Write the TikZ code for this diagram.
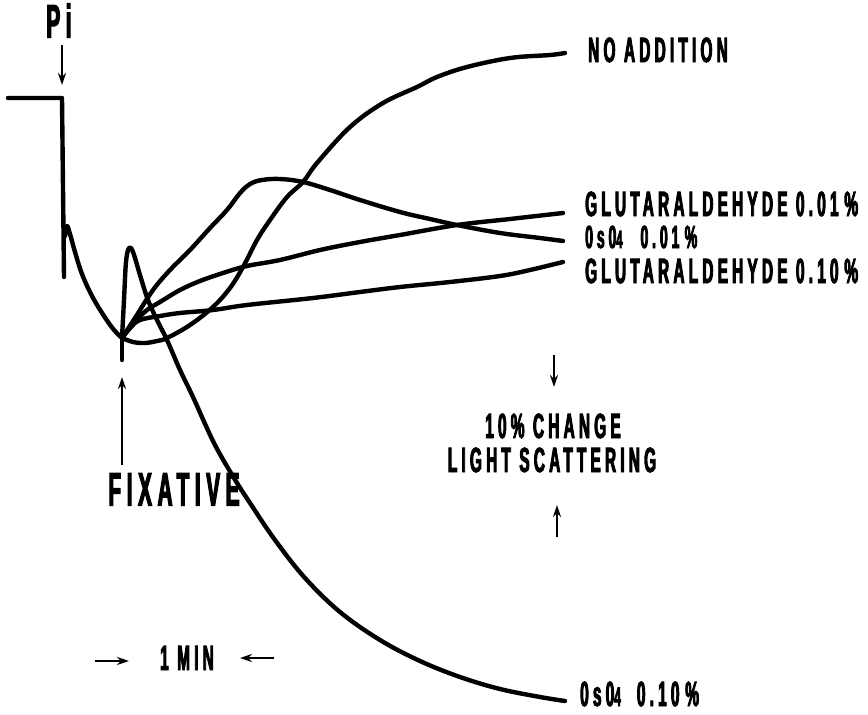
\documentclass[tikz,border=0pt]{standalone}
\usepackage{fontspec}
\usetikzlibrary{arrows.meta}
\newfontfamily\labfont{Liberation Sans}[FakeStretch=0.44,LetterSpace=12,FakeBold=2.5]
\begin{document}
\begin{tikzpicture}[x=1pt,y=-1pt,
  trace/.style={line width=4.4pt,line cap=round,line join=round},
  marker/.style={line width=2.3pt,-{Stealth[length=12pt,width=8pt]}},
  lab/.style={font=\labfont\bfseries\fontsize{35}{38}\selectfont,inner sep=0pt,anchor=west,text height=20pt,text depth=0pt},
  smlab/.style={lab,font=\labfont\bfseries\fontsize{32}{34}\selectfont,text height=18pt},
  biglab/.style={font=\labfont\bfseries\fontsize{47}{50}\selectfont,inner sep=0pt,text height=27pt,text depth=0pt}]
\useasboundingbox (0,0) rectangle (868,715);
% baseline trace with Pi step
\draw[trace] (8,98) -- (62,98) -- (64,277);
\draw[trace] plot[smooth,tension=0.6] coordinates {(65,236) (67,226) (70,234) (75,252) (82,274) (92,296) (104,316) (114,330) (122,338)};
\draw[trace] (122,338) -- (122,360);
% OsO4 0.10 %
\draw[trace] plot[smooth,tension=0.6] coordinates {(122,338) (124,300) (126,262) (129,248) (133,252) (140,275) (148,300) (158,322) (167,340) (180,370) (193,397) (214,443) (234,478) (250,503) (275,540) (305,578) (340,612) (380,640) (420,661) (460,677) (500,689) (540,697) (565,701)};
% NO ADDITION
\draw[trace] plot[smooth,tension=0.6] coordinates {(122,338) (133,342) (145,343) (157,341) (167,338) (190,325) (213,307) (230,288) (243,267) (257,240) (270,220) (287,197) (303,182) (317,163) (350,127) (383,103) (417,87) (437,77) (467,67) (510,58) (550,55) (565,53)};
% OsO4 0.01 %
\draw[trace] plot[smooth,tension=0.6] coordinates {(122,338) (135,318) (153,290) (170,270) (190,250) (210,228) (227,210) (240,193) (250,184) (262,180) (280,179) (303,182) (330,190) (360,200) (400,212) (430,219) (457,225) (500,233) (540,238) (563,241)};
% GLUTARALDEHYDE 0.01 %
\draw[trace] plot[smooth,tension=0.6] coordinates {(122,338) (135,322) (147,310) (160,302) (180,290) (200,281) (223,273) (247,266) (280,260) (320,250) (360,242) (400,235) (457,225) (510,219) (563,213)};
% GLUTARALDEHYDE 0.10 %
\draw[trace] plot[smooth,tension=0.6] coordinates {(122,338) (130,328) (140,320) (160,316) (180,313) (213,310) (247,305) (313,298) (360,292) (400,287) (450,282) (500,276) (530,270) (563,262)};
% labels
\node[biglab] (pi) at (59,24) {Pi};
\node[biglab] (fix) at (174,492) {FIXATIVE};
\node[lab] (noadd) at (588,52) {NO ADDITION};
\node[lab] (g01) at (585,206) {GLUTARALDEHYDE 0.01\,\%};
\node[smlab] (os01) at (585,239) {0s0{\fontsize{25}{25}\selectfont 4}\hspace{18pt}0.01\,\%};
\node[lab] (g10) at (585,273) {GLUTARALDEHYDE 0.10\,\%};
\node[lab] (os10) at (580,696) {0s0{\fontsize{27}{27}\selectfont 4}\hspace{16pt}0.10\,\%};
\node[lab,anchor=center] (chg) at (553,428) {10\% CHANGE};
\node[lab,anchor=center] (ls) at (552,462) {LIGHT SCATTERING};
\node[lab,anchor=center] (min) at (187,660) {1 MIN};
% marker arrows
\coordinate (piA) at (62,45); \coordinate (piB) at (62,85);
\coordinate (fxA) at (122,465); \coordinate (fxB) at (122,377);
\coordinate (dnA) at (554,355); \coordinate (dnB) at (554,387);
\coordinate (upA) at (557,537); \coordinate (upB) at (557,505);
\coordinate (rA) at (95,661); \coordinate (rB) at (129,661);
\coordinate (lA) at (274,658); \coordinate (lB) at (240,658);
\draw[marker] (piA) -- (piB);
\draw[marker] (fxA) -- (fxB);
\draw[marker] (dnA) -- (dnB);
\draw[marker] (upA) -- (upB);
\draw[marker] (rA) -- (rB);
\draw[marker] (lA) -- (lB);
\end{tikzpicture}
\end{document}
